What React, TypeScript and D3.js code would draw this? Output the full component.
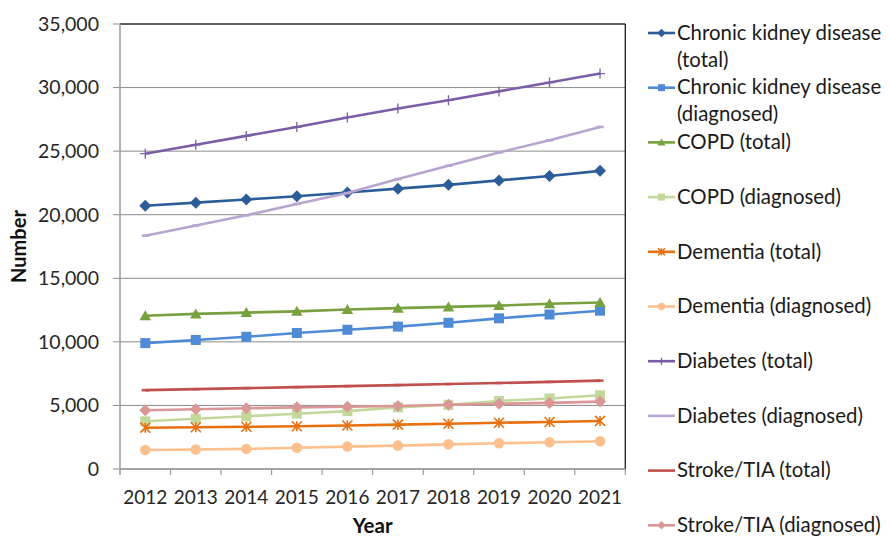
import React from "react";
import * as d3 from "d3";

const years = ["2012", "2013", "2014", "2015", "2016", "2017", "2018", "2019", "2020", "2021"];
const yTicks = [0, 5000, 10000, 15000, 20000, 25000, 30000, 35000];

const ckdTotal = [20700, 20950, 21200, 21450, 21750, 22050, 22350, 22700, 23050, 23450];
const ckdDiag = [9900, 10150, 10400, 10700, 10950, 11200, 11500, 11850, 12150, 12450];
const copdTotal = [12050, 12200, 12300, 12400, 12550, 12650, 12750, 12850, 13000, 13100];
const copdDiag = [3750, 3950, 4150, 4350, 4550, 4850, 5050, 5350, 5550, 5800];
const demTotal = [3250, 3280, 3320, 3360, 3420, 3490, 3560, 3640, 3700, 3780];
const demDiag = [1500, 1530, 1580, 1670, 1760, 1840, 1940, 2020, 2100, 2180];
const diabTotal = [24800, 25500, 26200, 26900, 27650, 28350, 29000, 29700, 30400, 31100];
const diabDiag = [18350, 19150, 19950, 20850, 21700, 22800, 23850, 24900, 25850, 26900];
const strokeTotal = [6200, 6280, 6360, 6440, 6520, 6600, 6680, 6760, 6850, 6950];
const strokeDiag = [4620, 4700, 4780, 4850, 4900, 4950, 5050, 5130, 5200, 5300];

type Marker = "diamond" | "square" | "triangle" | "circle" | "star" | "plus" | "dash";

const series: { name: string[]; values: number[]; color: string; marker: Marker }[] = [
  { name: ["Chronic kidney disease", "(total)"], values: ckdTotal, color: "#2C5D98", marker: "diamond" },
  { name: ["Chronic kidney disease", "(diagnosed)"], values: ckdDiag, color: "#4F8AD6", marker: "square" },
  { name: ["COPD (total)"], values: copdTotal, color: "#77A03E", marker: "triangle" },
  { name: ["COPD (diagnosed)"], values: copdDiag, color: "#C3D99C", marker: "square" },
  { name: ["Dementia (total)"], values: demTotal, color: "#E8700F", marker: "star" },
  { name: ["Dementia (diagnosed)"], values: demDiag, color: "#FBC08E", marker: "circle" },
  { name: ["Diabetes (total)"], values: diabTotal, color: "#7B5EA7", marker: "plus" },
  { name: ["Diabetes (diagnosed)"], values: diabDiag, color: "#B7A5CF", marker: "dash" },
  { name: ["Stroke/TIA (total)"], values: strokeTotal, color: "#C0504D", marker: "dash" },
  { name: ["Stroke/TIA (diagnosed)"], values: strokeDiag, color: "#DB9795", marker: "diamond" },
];

const W = 889;
const H = 538;
const plot = { left: 120, right: 625.3, top: 24, bottom: 469 };
const FONT = "Lato, 'Noto Sans', sans-serif";

function markerEl(m: Marker, cx: number, cy: number, color: string, s: number, key: string) {
  const r = s / 2;
  switch (m) {
    case "diamond":
      return <path key={key} d={`M${cx},${cy - r * 1.2}L${cx + r * 1.2},${cy}L${cx},${cy + r * 1.2}L${cx - r * 1.2},${cy}Z`} fill={color} />;
    case "square":
      return <rect key={key} x={cx - r} y={cy - r} width={s} height={s} fill={color} />;
    case "triangle":
      return <path key={key} d={`M${cx},${cy - r * 1.1}L${cx + r * 1.15},${cy + r * 0.9}L${cx - r * 1.15},${cy + r * 0.9}Z`} fill={color} />;
    case "circle":
      return <circle key={key} cx={cx} cy={cy} r={r * 1.05} fill={color} />;
    case "star":
      return (
        <path
          key={key}
          d={`M${cx - r},${cy - r}L${cx + r},${cy + r}M${cx - r},${cy + r}L${cx + r},${cy - r}M${cx},${cy - r}L${cx},${cy + r}`}
          stroke={color}
          strokeWidth={1.6}
          fill="none"
        />
      );
    case "plus":
      return (
        <path key={key} d={`M${cx - r},${cy}L${cx + r},${cy}M${cx},${cy - r}L${cx},${cy + r}`} stroke={color} strokeWidth={1.3} fill="none" />
      );
    case "dash":
      return <path key={key} d={`M${cx - r * 0.8},${cy}L${cx + r * 0.8},${cy}`} stroke={color} strokeWidth={2.5} fill="none" />;
  }
}

export default function App() {
  const x = d3.scaleBand<string>().domain(years).range([plot.left, plot.right]);
  const y = d3.scaleLinear().domain([0, 35000]).range([plot.bottom, plot.top]);
  const cx = (yr: string) => (x(yr) as number) + x.bandwidth() / 2;
  const line = d3
    .line<number>()
    .x((_, i) => cx(years[i]))
    .y((v) => y(v));
  const fmt = d3.format(",");

  const legendTop = 33;
  const legendStep = 54.7;

  return (
    <svg width={W} height={H} style={{ position: "fixed", left: 0, top: 0, background: "#fff" }} fontFamily={FONT}>
      <rect x={0} y={0} width={W} height={H} fill="#fff" />
      {/* gridlines */}
      {yTicks.map((t) => (
        <line key={"g" + t} x1={plot.left - 7} x2={plot.right} y1={y(t)} y2={y(t)} stroke="#8C8C8C" strokeWidth={1} />
      ))}
      {/* plot border top/right */}
      <line x1={plot.left} x2={plot.right} y1={plot.top} y2={plot.top} stroke="#3A3A3A" strokeWidth={1.3} />
      <line x1={plot.right} x2={plot.right} y1={plot.top} y2={plot.bottom} stroke="#1A1A1A" strokeWidth={1.3} />
      {/* axes */}
      <line x1={plot.left} x2={plot.left} y1={plot.top} y2={plot.bottom + 6} stroke="#9A9A9A" strokeWidth={1.5} />
      <line x1={plot.left} x2={plot.right} y1={plot.bottom} y2={plot.bottom} stroke="#9A9A9A" strokeWidth={1.5} />
      {years.map((yr) => (
        <line key={"xt" + yr} x1={(x(yr) as number) + x.bandwidth()} x2={(x(yr) as number) + x.bandwidth()} y1={plot.bottom} y2={plot.bottom + 6} stroke="#9A9A9A" strokeWidth={1.2} />
      ))}
      {/* y tick labels */}
      {yTicks.map((t) => (
        <text key={"yl" + t} x={99} y={y(t)} dy="0.35em" textAnchor="end" fontSize={19.5} fill="#262626">
          {fmt(t)}
        </text>
      ))}
      {/* x tick labels */}
      {years.map((yr) => (
        <text key={"xl" + yr} x={cx(yr)} y={504} textAnchor="middle" fontSize={19} fill="#262626">
          {yr}
        </text>
      ))}
      {/* axis titles */}
      <text x={(plot.left + plot.right) / 2} y={533} textAnchor="middle" fontSize={20.5} fontWeight="bold" fill="#111">
        Year
      </text>
      <text transform={`translate(26,${(plot.top + plot.bottom) / 2}) rotate(-90)`} textAnchor="middle" fontSize={20} fontWeight="bold" fill="#111">
        Number
      </text>
      {/* series */}
      {series.map((s, si) => (
        <g key={"s" + si}>
          <path d={line(s.values) as string} fill="none" stroke={s.color} strokeWidth={2.6} strokeLinejoin="round" />
          {s.values.map((v, i) => markerEl(s.marker, cx(years[i]), y(v), s.color, s.marker === "dash" ? 9 : 10, `m${si}-${i}`))}
        </g>
      ))}
      {/* legend */}
      {series.map((s, si) => {
        const ly = legendTop + si * legendStep;
        return (
          <g key={"l" + si}>
            <line x1={648} x2={675} y1={ly} y2={ly} stroke={s.color} strokeWidth={2.6} />
            {s.marker !== "dash" && markerEl(s.marker, 661.5, ly, s.color, 7, "lm" + si)}
            {s.name.map((n, j) => (
              <text key={j} x={677} y={ly + j * 27} dy="0.33em" fontSize={20.4} fill="#1a1a1a">
                {n}
              </text>
            ))}
          </g>
        );
      })}
    </svg>
  );
}
